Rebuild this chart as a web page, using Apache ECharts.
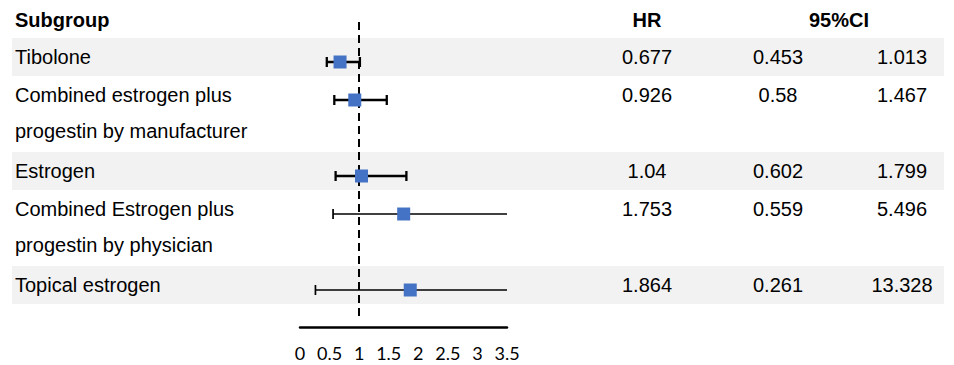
<!DOCTYPE html>
<html>
<head>
<meta charset="utf-8">
<script src="https://cdn.jsdelivr.net/npm/echarts/dist/echarts.min.js"></script>
<style>html,body{margin:0;padding:0;background:#fff}#c{width:954px;height:365px}</style>
</head>
<body>
<div id="c"></div>
<script>
// ---- data ----
const headers = ["Subgroup", "HR", "95%CI"];
const subgroups = [
  "Tibolone",
  "Combined estrogen plus\nprogestin by manufacturer",
  "Estrogen",
  "Combined Estrogen plus\nprogestin by physician",
  "Topical estrogen"
];
const hr = [0.677, 0.926, 1.04, 1.753, 1.864];
const ciLow = [0.453, 0.58, 0.602, 0.559, 0.261];
const ciHigh = [1.013, 1.467, 1.799, 5.496, 13.328];
const xTicks = [0, 0.5, 1, 1.5, 2, 2.5, 3, 3.5];
const refValue = 1;

// ---- layout ----
const FONT = '"Liberation Sans", Arial, sans-serif';
const xMin = xTicks[0], xMax = xTicks[xTicks.length - 1];
const slotPx = 38, firstSlotPx = 62, gridTop = 22, gridBottom = 320;

// slot (line index) of each subgroup, from the number of text lines
const lines = subgroups.map(s => s.split("\n").length);
const slots = [];
lines.reduce((acc, n, i) => { slots[i] = acc; return acc + n; }, 0);

const chart = echarts.init(document.getElementById('c'), null, { renderer: 'svg' });

chart.setOption({
  animation: false,
  backgroundColor: '#fff',
  grid: { left: 300, width: 207, top: gridTop, height: gridBottom - gridTop, containLabel: false },
  xAxis: {
    type: 'value', min: xMin, max: xMax, interval: 0.5,
    offset: 7,
    axisLine: { show: true, onZero: false, lineStyle: { color: '#000', width: 2.5 } },
    axisTick: { show: false },
    splitLine: { show: false },
    axisLabel: { color: '#000', fontFamily: 'Lato, "Open Sans", sans-serif', fontSize: 18, margin: 17,
      formatter: v => String(v) }
  },
  yAxis: {
    type: 'value', inverse: true,
    min: -(firstSlotPx - gridTop) / slotPx,
    max: (gridBottom - firstSlotPx) / slotPx,
    show: false
  },
  series: [
    {
      type: 'line', data: [], silent: true,
      markLine: {
        silent: true, symbol: 'none', label: { show: false },
        lineStyle: { color: '#000', width: 2, type: [8, 5] },
        data: [{ xAxis: refValue }]
      }
    },
    {
      type: 'custom',
      data: subgroups.map((s, i) => [ciLow[i], ciHigh[i], slots[i]]),
      encode: { x: [0, 1], y: 2 },
      clip: false,
      z: 3,
      renderItem: function (params, api) {
        const lo = api.value(0), hi = api.value(1), y = api.value(2);
        const hiC = Math.min(hi, xMax);
        const p1 = api.coord([lo, y]);
        const p2 = api.coord([hiC, y]);
        const lw = params.dataIndex < 3 ? 2.3 : 1.7;
        const st = { stroke: '#000', lineWidth: lw };
        const ch = [
          { type: 'line', shape: { x1: p1[0], y1: p1[1], x2: p2[0], y2: p2[1] }, style: st },
          { type: 'line', shape: { x1: p1[0], y1: p1[1] - 5, x2: p1[0], y2: p1[1] + 5 }, style: st }
        ];
        if (hi <= xMax) {
          ch.push({ type: 'line', shape: { x1: p2[0], y1: p2[1] - 5, x2: p2[0], y2: p2[1] + 5 }, style: st });
        }
        return { type: 'group', children: ch };
      }
    },
    {
      type: 'scatter',
      data: subgroups.map((s, i) => [hr[i], slots[i]]),
      symbol: 'rect', symbolSize: 13,
      itemStyle: { color: '#4472C4', opacity: 1 },
      z: 5
    }
  ]
});

// table text & row bands
const py = s => chart.convertToPixel({ yAxisIndex: 0 }, s);
const graphics = [];
const txt = (text, x, y, align, bold) => ({
  type: 'text', z: 100, silent: true,
  style: { text: text, x: x, y: y, fill: '#000',
    font: (bold ? 'bold ' : '') + '20px ' + FONT,
    align: align, verticalAlign: 'middle', textAlign: align, textVerticalAlign: 'middle' }
});
const colHR = 647, colLo = 778, colHi = 902, labelX = 15;
subgroups.forEach((s, i) => {
  const y0 = py(slots[i]);
  if (i % 2 === 0) {
    graphics.push({ type: 'rect', z: -10, silent: true,
      shape: { x: 12, y: y0 - 24, width: 932, height: lines[i] * slotPx },
      style: { fill: '#f2f2f2' } });
  }
  s.split("\n").forEach((ln, j) => graphics.push(txt(ln, labelX, y0 - 5 + j * 36, 'left', false)));
  graphics.push(txt(String(hr[i]), colHR, y0 - 5, 'center', false));
  graphics.push(txt(String(ciLow[i]), colLo, y0 - 5, 'center', false));
  graphics.push(txt(String(ciHigh[i]), colHi, y0 - 5, 'center', false));
});
const headY = 20;
graphics.push(txt(headers[0], labelX, headY, 'left', true));
graphics.push(txt(headers[1], colHR, headY, 'center', true));
graphics.push(txt(headers[2], (colLo + colHi) / 2 - 1, headY, 'center', true));
chart.setOption({ graphic: { elements: graphics } });
</script>
</body>
</html>
